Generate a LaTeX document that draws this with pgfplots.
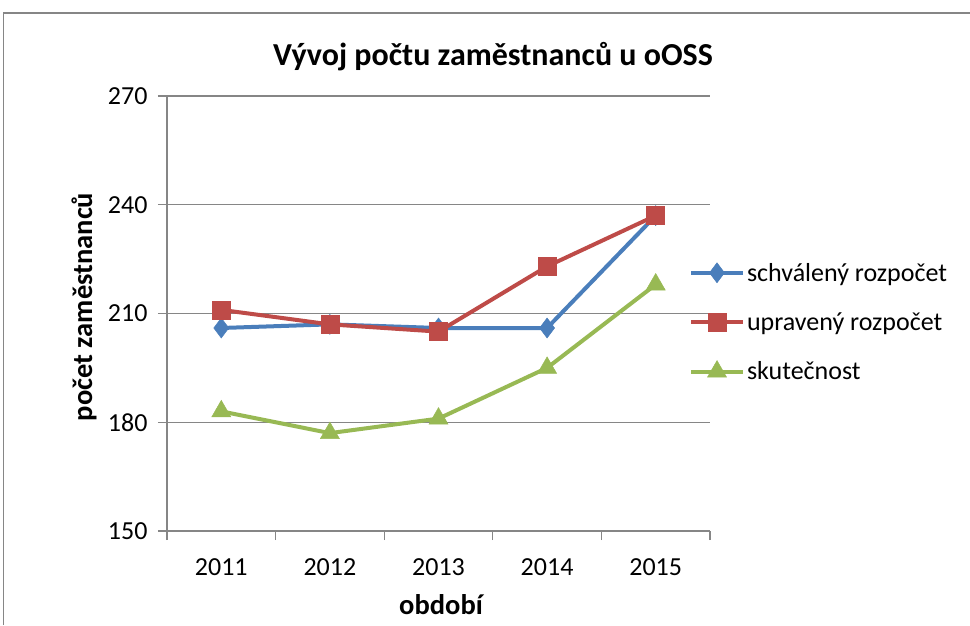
\documentclass[border=0pt]{standalone}
\usepackage{pgfplots}
\pgfplotsset{compat=1.18}
\usepackage{fontspec}
\setmainfont{Carlito}
\definecolor{sblue}{HTML}{4A7EBB}
\definecolor{sred}{HTML}{BE4B48}
\definecolor{sgreen}{HTML}{98B954}
\definecolor{gridgray}{HTML}{868686}
\newcommand{\tickfont}{\fontsize{26}{30}\selectfont}
\newcommand{\labfont}{\fontsize{28.5}{32}\selectfont\bfseries}
\begin{document}
\begin{tikzpicture}[x=1pt,y=1pt]
\useasboundingbox (0,0) rectangle (970,625);
\draw[gridgray, line width=1.2pt] (3.5,0) -- (3.5,612) -- (970,612);
\begin{axis}[
  at={(167pt,94pt)}, anchor=south west,
  scale only axis, width=543pt, height=435pt,
  xmin=0.5, xmax=5.5, ymin=150, ymax=270,
  xtick={0.5,1.5,2.5,3.5,4.5,5.5},
  xticklabels={2011,2012,2013,2014,2015,{}},
  x tick label style={xshift=54.3pt, yshift=-15pt},
  ytick={150,180,210,240,270},
  yticklabel style={xshift=-7pt},
  ymajorgrids,
  major grid style={gridgray, line width=1.3pt},
  axis x line*=bottom, axis y line*=left,
  axis line style={gridgray, line width=1.3pt},
  tick align=outside,
  tick style={gridgray, line width=1.3pt},
  major tick length=9pt,
  tick label style={font=\tickfont, black},
  /pgf/number format/assume math mode=true,
  xlabel={období}, ylabel={počet zaměstnanců},
  every axis x label/.style={at={(0.5046,-0.17)}, anchor=center, font=\labfont},
  every axis y label/.style={at={(-0.153,0.515)}, rotate=90, anchor=center, font=\labfont},
  legend style={draw=none, fill=none, at={(0.961,0.48)}, anchor=west,
    font=\tickfont, row sep=26pt, inner sep=0pt},
  legend cell align=left,
  legend image code/.code={\draw[mark repeat=2, mark phase=2] plot coordinates {(0pt,0pt) (26pt,0pt) (52pt,0pt)};},
  clip=false,
]
\addplot[sblue, line width=4pt, mark=diamond*, mark size=10pt, mark options={solid, line width=0.5pt}]
  coordinates {(1,206) (2,207) (3,206) (4,206) (5,237)};
\addlegendentry{schválený rozpočet}
\addplot[sred, line width=4pt, mark=square*, mark size=9pt, mark options={solid, line width=0.5pt}]
  coordinates {(1,211) (2,207) (3,205) (4,223) (5,237)};
\addlegendentry{upravený rozpočet}
\addplot[sgreen, line width=4pt, mark=triangle*, mark size=11pt, mark options={solid, line width=0.5pt}]
  coordinates {(1,183) (2,177) (3,181) (4,195) (5,218)};
\addlegendentry{skutečnost}
\end{axis}
\node[font=\fontsize{32}{36}\selectfont\bfseries] at (493,568) {Vývoj počtu zaměstnanců u oOSS};
\end{tikzpicture}
\end{document}
